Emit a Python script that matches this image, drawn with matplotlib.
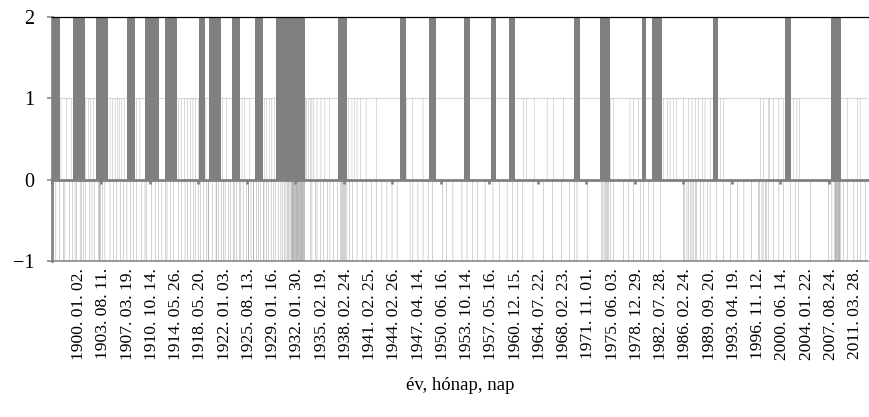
import matplotlib
matplotlib.use("Agg")
import matplotlib.pyplot as plt
import numpy as np
from matplotlib.ticker import FixedLocator

plt.rcParams['font.family'] = ['Liberation Serif', 'DejaVu Serif']

# ---------------- data (category index along the date axis) ----------------
n_categories = 1446

tick_labels = [
    "1900. 01. 02.", "1903. 08. 11.", "1907. 03. 19.", "1910. 10. 14.",
    "1914. 05. 26.", "1918. 05. 20.", "1922. 01. 03.", "1925. 08. 13.",
    "1929. 01. 16.", "1932. 01. 30.", "1935. 02. 19.", "1938. 02. 24.",
    "1941. 02. 25.", "1944. 02. 26.", "1947. 04. 14.", "1950. 06. 16.",
    "1953. 10. 14.", "1957. 05. 16.", "1960. 12. 15.", "1964. 07. 22.",
    "1968. 02. 23.", "1971. 11. 01.", "1975. 06. 03.", "1978. 12. 29.",
    "1982. 07. 28.", "1986. 02. 24.", "1989. 09. 20.", "1993. 04. 19.",
    "1996. 11. 12.", "2000. 06. 14.", "2004. 01. 22.", "2007. 08. 24.",
    "2011. 03. 28.",
]
label_first = 47
label_step = 43
mark_step = 86

# periods with value 2 (first and last category of each period)
dark_start = [0, 37, 77, 132, 164, 200, 260, 278, 318, 359, 396, 506, 616,
              668, 729, 778, 810, 924, 971, 1045, 1063, 1171, 1299, 1380]
dark_end = [13, 56, 97, 145, 188, 219, 269, 297, 331, 372, 446, 521, 625,
            679, 739, 786, 819, 935, 987, 1051, 1080, 1179, 1308, 1398]

# categories with value 1
plus_idx = [15, 25, 33, 59, 64, 68, 72, 102, 107, 111, 115, 119, 123, 127,
            149, 155, 223, 229, 234, 239, 244, 249, 254, 259, 272, 302, 309,
            336, 341, 350, 376, 380, 385, 389, 393, 448, 451, 454, 457, 460,
            463, 469, 476, 483, 491, 525, 531, 535, 540, 546, 556, 574, 627,
            639, 657, 835, 841, 854, 877, 888, 906, 989, 995, 1024, 1030,
            1039, 1084, 1090, 1095, 1101, 1107, 1119, 1128, 1134, 1140, 1146,
            1152, 1157, 1166, 1184, 1190, 1255, 1261, 1270, 1271, 1279, 1288,
            1296, 1314, 1320, 1325, 1409, 1427, 1432]

# categories with value -1
minus_idx = [6, 13, 19, 22, 30, 36, 40, 43, 49, 52, 55, 59, 65, 70, 75, 81,
             83, 84, 85, 89, 93, 102, 108, 113, 120, 126, 132, 138, 143, 149,
             158, 164, 167, 176, 182, 188, 194, 200, 203, 209, 214, 223, 229,
             235, 239, 245, 250, 253, 259, 263, 268, 273, 276, 277, 283, 290,
             291, 294, 299, 303, 306, 312, 316, 321, 322, 326, 331, 334, 338,
             344, 347, 348, 352, 356, 357, 362, 365, 369, 374, 375, 379, 383,
             388, 392, 396, 401, 405, 408, 411, 414, 417, 419, 421, 423,
             424, 425, 426, 427, 428, 429, 430, 431, 432, 433, 434, 435, 436,
             437, 438, 439, 440, 441, 442, 443, 444, 445, 446, 447,
             457, 460, 466, 469, 475, 480, 487, 492, 498, 505, 510, 512, 514,
             516, 518, 520, 522, 527, 532, 540, 550, 556, 566, 575, 584, 593,
             602, 611, 634, 639, 648, 657, 666, 674, 692, 699, 710, 726, 735,
             745, 754, 767, 781, 793, 806, 816, 825, 834, 852, 870, 887, 903,
             917, 926, 930, 948, 974, 976, 978, 980, 982, 984, 986, 989, 995,
             1013, 1022, 1030, 1042, 1048, 1057, 1066, 1078, 1119, 1121, 1125,
             1128, 1131, 1134, 1137, 1140, 1142, 1149, 1155, 1161, 1166, 1178,
             1190, 1202, 1214, 1226, 1240, 1252, 1254, 1258, 1260, 1264, 1266,
             1270, 1279, 1288, 1296, 1308, 1317, 1323, 1344, 1376, 1382, 1386,
             1388, 1389, 1390, 1391, 1392, 1393, 1394, 1395, 1396, 1397, 1403,
             1409, 1421, 1427, 1433, 1441]

# ---------------- figure ----------------
W, H = 870, 417
fig = plt.figure(figsize=(W / 100, H / 100), dpi=100)
ax = fig.add_axes([52.5 / W, 1 - 261 / H, (868 - 52.5) / W, (261 - 17) / H])
ax.set_xlim(0, n_categories)
ax.set_ylim(-1, 2)

dark_start_a = np.array(dark_start)
dark_end_a = np.array(dark_end)
ax.bar(dark_start_a, np.full(len(dark_start_a), 2.0),
       width=dark_end_a - dark_start_a + 1, align='edge',
       color='#808080', linewidth=0, zorder=2)
ax.bar(plus_idx, np.ones(len(plus_idx)), width=0.55, color='#8c8c8c',
       linewidth=0, snap=False, zorder=1.5)
ax.bar(minus_idx, -np.ones(len(minus_idx)), width=0.62, color='#808080',
       linewidth=0, snap=False, zorder=1.5)

ax.axhline(1, color='#d9d9d9', linewidth=0.8, zorder=1)

# spines
ax.spines['right'].set_visible(False)
ax.spines['top'].set_color('black')
ax.spines['top'].set_linewidth(0.9)
ax.spines['left'].set_color('#808080')
ax.spines['left'].set_linewidth(1.9)
ax.spines['bottom'].set_color('#808080')
ax.spines['bottom'].set_linewidth(1.1)
for s in ax.spines.values():
    s.set_zorder(4)

# y axis
ax.set_yticks([-1, 0, 1, 2])
ax.set_yticklabels(['\u22121', '0', '1', '2'])
ax.tick_params(axis='y', length=3.6, width=1.1, color='#808080',
               labelsize=14.5, pad=9.5, direction='out')

# x axis labels (below the -1 line)
label_pos = [label_first + label_step * k for k in range(len(tick_labels))]
ax.xaxis.set_major_locator(FixedLocator(label_pos))
ax.set_xticklabels(tick_labels, rotation=90)
ax.tick_params(axis='x', length=0, labelsize=12.6, pad=5)

# horizontal axis line at 0 with tick marks
sec = ax.secondary_xaxis(1 / 3)
sec.set_xticks(list(range(0, n_categories, mark_step)))
sec.tick_params(axis='x', length=3, width=1.9, color='#808080',
                labelbottom=False, labeltop=False, direction='out')
sec.spines['bottom'].set_color('#808080')
sec.spines['bottom'].set_linewidth(2.0)
sec.set_zorder(5)

fig.text(460 / W, 1 - 390 / H, 'év, hónap, nap', ha='center', va='baseline',
         fontsize=13.5)

fig.savefig('out.png', dpi=100)
